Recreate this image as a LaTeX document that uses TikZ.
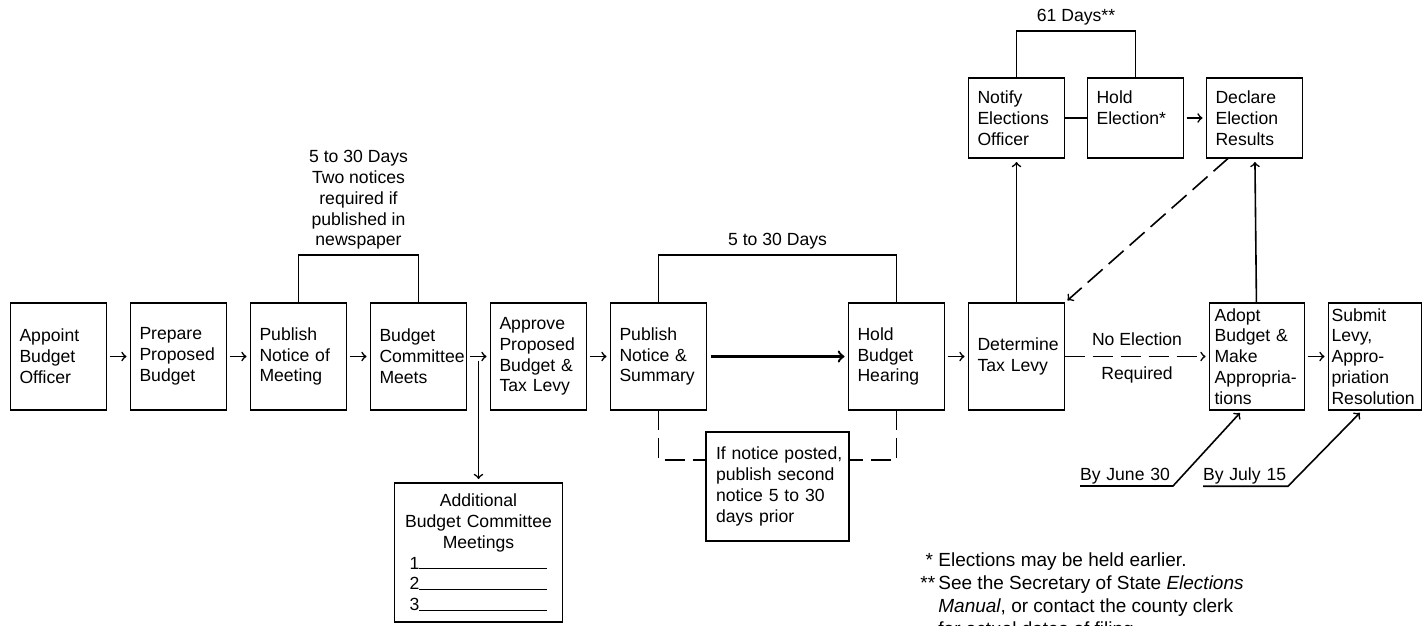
\documentclass[tikz,border=0pt]{standalone}
\usepackage{fontspec}
\setmainfont{Liberation Sans}
\usetikzlibrary{arrows,shapes}
\usetikzlibrary{positioning}
\usetikzlibrary{calc}
\hyphenpenalty=10000
\exhyphenpenalty=10000
\tikzstyle{stepbox} = [draw, rectangle, line width=0.7pt, outer sep=0pt, align=left, text width=39pt, inner xsep=4.5pt, inner ysep=1pt, minimum height=53.5pt]
\tikzstyle{topbox} = [stepbox, minimum height=40pt]
\tikzstyle{addbox} = [draw, rectangle, line width=0.7pt, outer sep=0pt, align=center, text width=76pt, inner xsep=4pt, inner ysep=1pt, minimum height=69.5pt]
\tikzstyle{datelabel} = [inner xsep=0pt, inner ysep=1pt, outer sep=0pt, align=left]
\tikzstyle{arrow} = [thick,->, shorten >=2pt]
\tikzstyle{steparrow} = [arrow, shorten <=1.5pt]
\tikzstyle{link} = [thick]
\tikzstyle{dashlink} = [thick, dash pattern=on 10pt off 4pt]

\begin{document}
\begin{tikzpicture}[every node/.style={font=\fontsize{8.8pt}{10.4pt}\selectfont}]
	\useasboundingbox (0,0) rectangle (712.5pt,-313pt);
	
		% Budget steps
		\node[stepbox] (appoint) at (29.25pt,-178.25pt) {Appoint\\Budget\\Officer};
		\node[stepbox, right = 12pt of appoint] (prepare) {Prepare\\Proposed\\Budget};
		\node[stepbox, right = 12pt of prepare] (pubmeet) {Publish\\Notice of\\Meeting};
		\node[stepbox, right = 12pt of pubmeet] (bcm) {Budget\\Committee\\Meets};
		\node[stepbox, right = 12pt of bcm] (approve) {Approve\\Proposed\\Budget \&\\Tax Levy};
		\node[stepbox, right = 12pt of approve] (summary) {Publish\\Notice \&\\Summary};
		\node[stepbox, right = 71pt of summary] (hearing) {Hold\\Budget\\Hearing};
		\node[stepbox, right = 12pt of hearing] (levy) {Determine\\Tax Levy};
		\node[stepbox, text width=42.5pt, inner xsep=2.5pt, right = 72.5pt of levy] (adopt) {Adopt\\Budget \&\\Make\\Appropria-\\tions};
		\node[stepbox, text width=43.5pt, inner xsep=1.5pt, right = 12pt of adopt] (submit) {Submit\\Levy,\\Appro-\\priation\\Resolution};
		
		% Election steps
		\node[topbox, above = 72.5pt of levy] (notify) {Notify\\Elections\\Officer};
		\node[topbox, right = 11.5pt of notify] (election) {Hold\\Election*\\~};
		\node[topbox, right = 11.5pt of election] (declare) {Declare\\Election\\Results};
		
		% Day brackets
		\coordinate[above = 24pt of pubmeet] (pubmeetup);
		\coordinate[right = 30pt of pubmeetup] (days1);
		\draw[link] (pubmeet) -- (pubmeetup) -| (bcm);
		\node[above = 1.5pt of days1, align=center, inner sep=1pt] (days1txt) {5 to 30 Days\\Two notices\\required if\\published in\\newspaper};
		
		\coordinate[above = 24pt of summary] (summaryup);
		\coordinate[right = 59.5pt of summaryup] (days2);
		\draw[link] (summary) -- (summaryup) -| (hearing);
		\node[above = 1.5pt of days2, inner sep=1pt] (days2txt) {5 to 30 Days};
		
		\coordinate[above = 23.5pt of notify] (notifyup);
		\coordinate[right = 29.75pt of notifyup] (days3);
		\draw[link] (notify) -- (notifyup) -| (election);
		\node[above = 1.5pt of days3, inner sep=1pt] (days3txt) {61 Days**};
		
		% Additional meetings
		\coordinate[right = 6pt of bcm] (bcmr);
		\coordinate[below = 2pt of bcmr] (bcmd);
		\node[addbox, below = 63.25pt of bcmr] (extra) {Additional\\Budget Committee\\Meetings\\1\rule{64pt}{0.5pt}\\2\rule{64pt}{0.5pt}\\3\rule{64pt}{0.5pt}};
		
		% Second notice
		\coordinate (gapmid) at ($(summary.south east)!0.5!(hearing.south west)$);
		\node[stepbox, text width=61.5pt, inner xsep=5pt, minimum height=54.5pt, below = 11pt of gapmid] (notice) {\mbox{If notice posted,}\\publish second\\notice 5 to 30\\days prior};
		\coordinate[below = 25pt of summary] (summaryd);
		\coordinate[below = 25pt of hearing] (hearingd);
		
		% Deadlines
		\node[datelabel, text width=46.5pt, anchor=south west] (june) at (540pt,-243pt) {By June 30};
		\node[datelabel, text width=42.5pt, right = 15pt of june] (july) {By July 15};
		
		% Footnotes
		\node[anchor=north west, align=left, inner sep=0pt, font=\fontsize{9.5pt}{11.5pt}\selectfont] (notes) at (469pt,-276pt) {\llap{*\ }Elections may be held earlier.\\\llap{**\,}See the Secretary of State \textit{Elections}\\\textit{Manual}, or contact the county clerk\\for actual dates of filing.};
		
		% Connect all nodes defined above
		\draw[steparrow] (appoint) -- (prepare);
		\draw[steparrow] (prepare) -- (pubmeet);
		\draw[steparrow] (pubmeet) -- (bcm);
		\draw[steparrow] (bcm) -- (approve);
		\draw[steparrow] (approve) -- (summary);
		\draw[steparrow, very thick, shorten <=2pt] (summary) -- (hearing);
		\draw[steparrow] (hearing) -- (levy);
		\draw[steparrow] (adopt) -- (submit);
		\draw[arrow] (bcmd) -- (extra);
		\draw[dashlink] (summary) -- (summaryd) -- (notice.west |- summaryd);
		\draw[dashlink] (hearing) -- (hearingd) -- (notice.east |- hearingd);
		\draw[arrow, dashlink] (levy) -- node[above = 1.5pt] (noelec) {No Election} node[below = 1.5pt] (req) {Required} (adopt);
		\draw[arrow] (levy) -- (notify);
		\draw[link] (notify) -- (election);
		\draw[steparrow] (election) -- (declare);
		\draw[arrow] (adopt) -- (declare);
		\draw[arrow, dashlink] (declare.237) -- (levy.north east);
		\draw[arrow] (june.south west) -- (june.south east) -- (adopt.255);
		\draw[arrow] (july.south west) -- (july.south east) -- (submit.257);
		
	\end{tikzpicture}
\end{document}
